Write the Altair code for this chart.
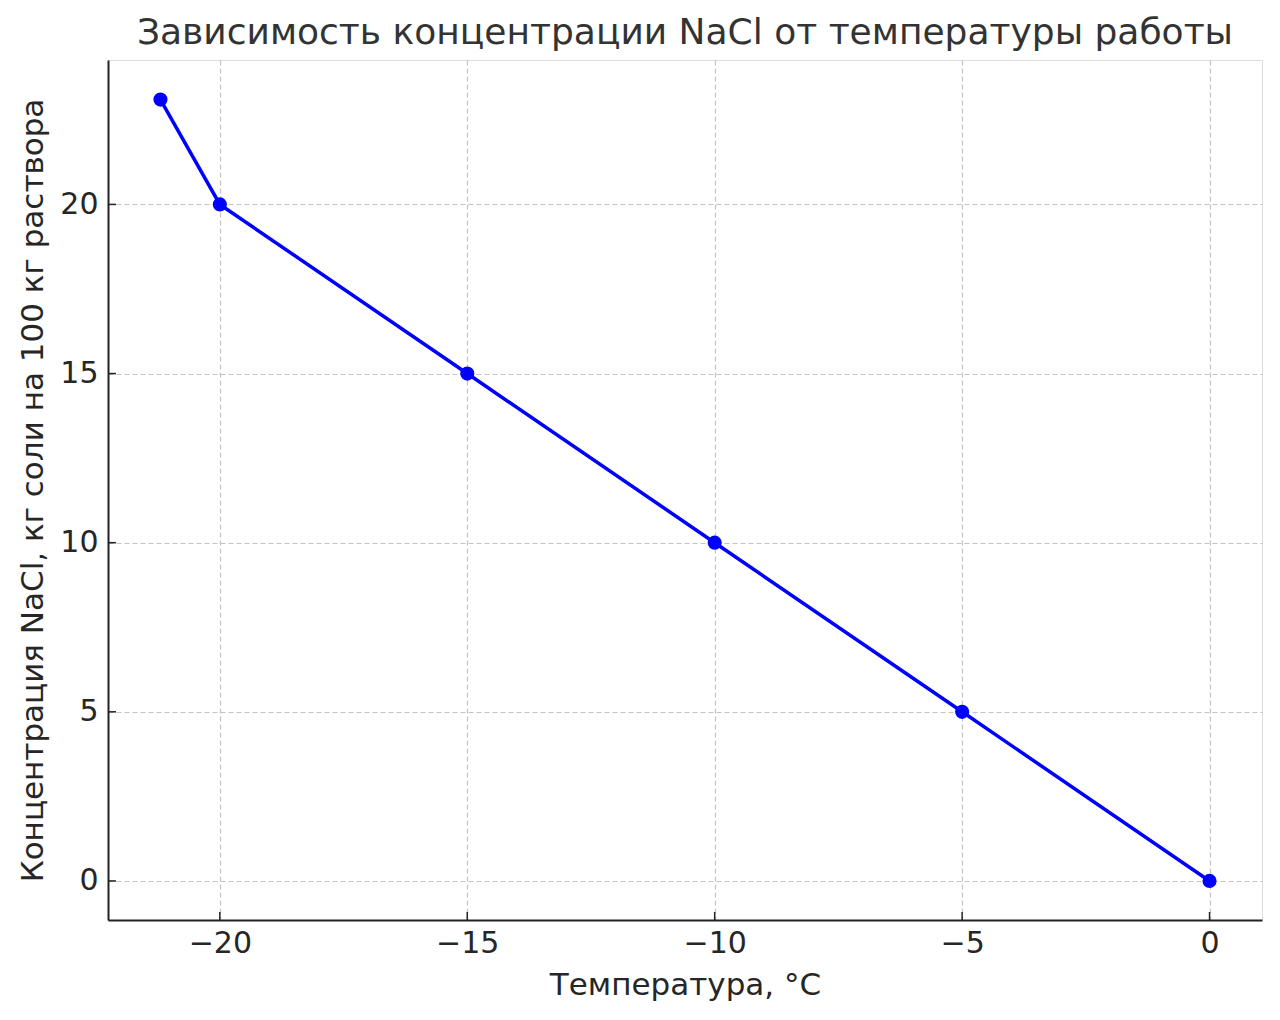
import altair as alt
import pandas as pd

# temperature (°C) vs NaCl concentration (kg per 100 kg solution)
temperature = [-21.2, -20, -15, -10, -5, 0]
concentration = [23.1, 20, 15, 10, 5, 0]

x_ticks = [-20, -15, -10, -5, 0]
y_ticks = [0, 5, 10, 15, 20]

W, H = 1154, 860
FONT = "DejaVu Sans"
TEXT = "#262626"

df = pd.DataFrame({"t": temperature, "c": concentration})
xt = pd.DataFrame({"v": x_ticks})
yt = pd.DataFrame({"v": y_ticks})

x_scale = alt.Scale(domain=[-22.26, 1.06], nice=False, zero=False)
y_scale = alt.Scale(domain=[-1.155, 24.27], nice=False, zero=False)


def make_axis(ticks, title, label_pad, title_pad):
    return alt.Axis(
        values=ticks,
        title=title,
        grid=True,
        gridDash=[5, 3],
        gridColor="#c4c4c4",
        gridWidth=1.2,
        tickSize=0,
        labelPadding=label_pad,
        labelFontSize=30,
        labelColor=TEXT,
        labelFont=FONT,
        titleFontSize=31,
        titleFontWeight="normal",
        titleColor=TEXT,
        titleFont=FONT,
        titlePadding=title_pad,
        domainColor="#222222",
        domainWidth=2,
    )


x_axis = make_axis(x_ticks, "Температура, °C", 8, 12)
y_axis = make_axis(y_ticks, "Концентрация NaCl, кг соли на 100 кг раствора", 10, 10)

line = (
    alt.Chart(df)
    .mark_line(color="#0000ff", strokeWidth=3.5)
    .encode(
        x=alt.X("t:Q", scale=x_scale, axis=x_axis),
        y=alt.Y("c:Q", scale=y_scale, axis=y_axis),
    )
)

points = (
    alt.Chart(df)
    .mark_point(filled=True, color="#0000ff", size=200, opacity=1)
    .encode(x=alt.X("t:Q", scale=x_scale), y=alt.Y("c:Q", scale=y_scale))
)

# inward-pointing ticks, like the original
x_tick_marks = (
    alt.Chart(xt)
    .mark_rule(color="#222222", strokeWidth=1.5)
    .encode(x=alt.X("v:Q", scale=x_scale), y=alt.value(H - 8), y2=alt.value(H))
)
y_tick_marks = (
    alt.Chart(yt)
    .mark_rule(color="#222222", strokeWidth=1.5)
    .encode(y=alt.Y("v:Q", scale=y_scale), x=alt.value(0), x2=alt.value(8))
)

chart = (
    alt.layer(line, points, x_tick_marks, y_tick_marks)
    .properties(
        width=W,
        height=H,
        title=alt.TitleParams(
            "Зависимость концентрации NaCl от температуры работы",
            fontSize=36,
            fontWeight="normal",
            font=FONT,
            color="#333333",
            offset=8,
        ),
        autosize="none",
        padding={"left": 100, "top": 52, "right": 10, "bottom": 90},
    )
    .configure_view(stroke=None)
    .configure(background="white")
)

chart.save("out.html", embed_options={"renderer": "svg", "actions": False})
